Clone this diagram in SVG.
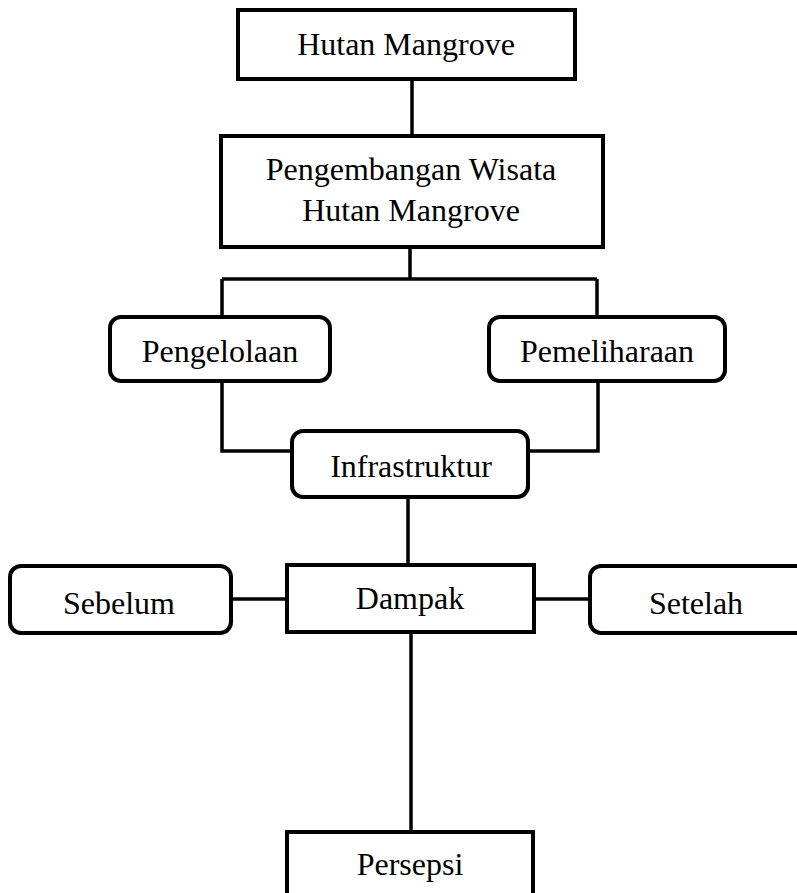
<svg xmlns="http://www.w3.org/2000/svg" width="797" height="893" viewBox="0 0 797 893">
<style>
.box{fill:#fff;stroke:#000;stroke-width:4}
.ln{fill:none;stroke:#000;stroke-width:3.5}
text{font-family:"Liberation Serif","Times New Roman",serif;font-size:32px;fill:#000;text-anchor:middle}
</style>
<rect width="797" height="893" fill="#fff"/>
<g id="connectors">
<path class="ln" d="M412 79V135"/>
<path class="ln" d="M410 247V279M222 279H597M222 279V317M597 279V316"/>
<path class="ln" d="M222 380V451H292"/>
<path class="ln" d="M598 381V451H528"/>
<path class="ln" d="M408 497V565"/>
<path class="ln" d="M231 599H287M534 599H590"/>
<path class="ln" d="M411 632V832"/>
</g>
<g id="hutan-mangrove">
<rect class="box" x="238" y="10" width="337" height="69"/>
<text x="406" y="55">Hutan Mangrove</text>
</g>
<g id="pengembangan">
<rect class="box" x="221" y="136" width="382" height="111"/>
<text x="411" y="180">Pengembangan Wisata</text>
<text x="411" y="221">Hutan Mangrove</text>
</g>
<g id="pengelolaan">
<rect class="box" x="110" y="317" width="220" height="64" rx="11"/>
<text x="220" y="362">Pengelolaan</text>
</g>
<g id="pemeliharaan">
<rect class="box" x="489" y="317" width="236" height="64" rx="11"/>
<text x="607" y="362">Pemeliharaan</text>
</g>
<g id="infrastruktur">
<rect class="box" x="292" y="431" width="236" height="66" rx="11"/>
<text x="411" y="477">Infrastruktur</text>
</g>
<g id="dampak">
<rect class="box" x="287" y="565" width="247" height="67"/>
<text x="410" y="609">Dampak</text>
</g>
<g id="sebelum">
<rect class="box" x="10" y="566" width="221" height="67" rx="11"/>
<text x="119" y="614">Sebelum</text>
</g>
<g id="setelah">
<rect class="box" x="590" y="566" width="230" height="67" rx="11"/>
<text x="696" y="614">Setelah</text>
</g>
<g id="persepsi">
<rect class="box" x="287" y="832" width="246" height="80"/>
<text x="410" y="875">Persepsi</text>
</g>
</svg>
